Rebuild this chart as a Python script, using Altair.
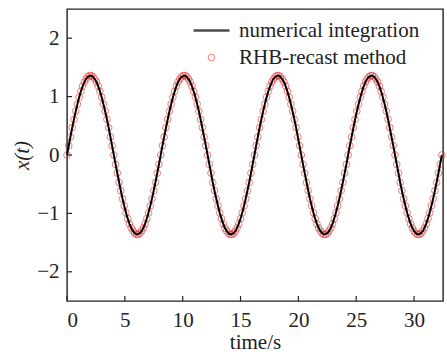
import altair as alt
import pandas as pd

# ---- numerical integration (black line) ----
time_s = [
    0.0, 0.2, 0.4, 0.6, 0.8, 1.0, 1.2, 1.4, 1.6, 1.8,
    2.0, 2.2, 2.4, 2.6, 2.8, 3.0, 3.2, 3.4, 3.6, 3.8,
    4.0, 4.2, 4.4, 4.6, 4.8, 5.0, 5.2, 5.4, 5.6, 5.8,
    6.0, 6.2, 6.4, 6.6, 6.8, 7.0, 7.2, 7.4, 7.6, 7.8,
    8.0, 8.2, 8.4, 8.6, 8.8, 9.0, 9.2, 9.4, 9.6, 9.8,
    10.0, 10.2, 10.4, 10.6, 10.8, 11.0, 11.2, 11.4, 11.6, 11.8,
    12.0, 12.2, 12.4, 12.6, 12.8, 13.0, 13.2, 13.4, 13.6, 13.8,
    14.0, 14.2, 14.4, 14.6, 14.8, 15.0, 15.2, 15.4, 15.6, 15.8,
    16.0, 16.2, 16.4, 16.6, 16.8, 17.0, 17.2, 17.4, 17.6, 17.8,
    18.0, 18.2, 18.4, 18.6, 18.8, 19.0, 19.2, 19.4, 19.6, 19.8,
    20.0, 20.2, 20.4, 20.6, 20.8, 21.0, 21.2, 21.4, 21.6, 21.8,
    22.0, 22.2, 22.4, 22.6, 22.8, 23.0, 23.2, 23.4, 23.6, 23.8,
    24.0, 24.2, 24.4, 24.6, 24.8, 25.0, 25.2, 25.4, 25.6, 25.8,
    26.0, 26.2, 26.4, 26.6, 26.8, 27.0, 27.2, 27.4, 27.6, 27.8,
    28.0, 28.2, 28.4, 28.6, 28.8, 29.0, 29.2, 29.4, 29.6, 29.8,
    30.0, 30.2, 30.4, 30.6, 30.8, 31.0, 31.2, 31.4, 31.6, 31.8,
    32.0, 32.2, 32.4,
]
x_t = [
    0.00, 0.21, 0.42, 0.61, 0.79, 0.95, 1.09, 1.20, 1.29, 1.34,
    1.36, 1.35, 1.30, 1.23, 1.12, 0.99, 0.83, 0.66, 0.47, 0.26,
    0.05, -0.16, -0.36, -0.56, -0.75, -0.91, -1.06, -1.18, -1.27, -1.33,
    -1.36, -1.35, -1.32, -1.25, -1.15, -1.02, -0.87, -0.70, -0.51, -0.31,
    -0.11, 0.11, 0.31, 0.51, 0.70, 0.87, 1.02, 1.15, 1.25, 1.32,
    1.35, 1.36, 1.33, 1.27, 1.18, 1.06, 0.91, 0.75, 0.56, 0.36,
    0.16, -0.05, -0.26, -0.47, -0.66, -0.83, -0.99, -1.12, -1.23, -1.30,
    -1.35, -1.36, -1.34, -1.29, -1.20, -1.09, -0.95, -0.79, -0.61, -0.42,
    -0.21, 0.00, 0.21, 0.42, 0.61, 0.79, 0.95, 1.09, 1.20, 1.29,
    1.34, 1.36, 1.35, 1.30, 1.23, 1.12, 0.99, 0.83, 0.66, 0.47,
    0.26, 0.05, -0.16, -0.36, -0.56, -0.75, -0.91, -1.06, -1.18, -1.27,
    -1.33, -1.36, -1.35, -1.32, -1.25, -1.15, -1.02, -0.87, -0.70, -0.51,
    -0.31, -0.11, 0.11, 0.31, 0.51, 0.70, 0.87, 1.02, 1.15, 1.25,
    1.32, 1.35, 1.36, 1.33, 1.27, 1.18, 1.06, 0.91, 0.75, 0.56,
    0.36, 0.16, -0.05, -0.26, -0.47, -0.66, -0.83, -0.99, -1.12, -1.23,
    -1.30, -1.35, -1.36, -1.34, -1.29, -1.20, -1.09, -0.95, -0.79, -0.61,
    -0.42, -0.21, 0.00,
]

# ---- RHB-recast method (red open circles) ----
rhb_time_s = [
    0.00, 0.15, 0.30, 0.45, 0.60, 0.75, 0.90, 1.05, 1.20, 1.35,
    1.50, 1.65, 1.80, 1.95, 2.10, 2.25, 2.40, 2.55, 2.70, 2.85,
    3.00, 3.15, 3.30, 3.45, 3.60, 3.75, 3.90, 4.05, 4.20, 4.35,
    4.50, 4.65, 4.80, 4.95, 5.10, 5.25, 5.40, 5.55, 5.70, 5.85,
    6.00, 6.15, 6.30, 6.45, 6.60, 6.75, 6.90, 7.05, 7.20, 7.35,
    7.50, 7.65, 7.80, 7.95, 8.10, 8.25, 8.40, 8.55, 8.70, 8.85,
    9.00, 9.15, 9.30, 9.45, 9.60, 9.75, 9.90, 10.05, 10.20, 10.35,
    10.50, 10.65, 10.80, 10.95, 11.10, 11.25, 11.40, 11.55, 11.70, 11.85,
    12.00, 12.15, 12.30, 12.45, 12.60, 12.75, 12.90, 13.05, 13.20, 13.35,
    13.50, 13.65, 13.80, 13.95, 14.10, 14.25, 14.40, 14.55, 14.70, 14.85,
    15.00, 15.15, 15.30, 15.45, 15.60, 15.75, 15.90, 16.05, 16.20, 16.35,
    16.50, 16.65, 16.80, 16.95, 17.10, 17.25, 17.40, 17.55, 17.70, 17.85,
    18.00, 18.15, 18.30, 18.45, 18.60, 18.75, 18.90, 19.05, 19.20, 19.35,
    19.50, 19.65, 19.80, 19.95, 20.10, 20.25, 20.40, 20.55, 20.70, 20.85,
    21.00, 21.15, 21.30, 21.45, 21.60, 21.75, 21.90, 22.05, 22.20, 22.35,
    22.50, 22.65, 22.80, 22.95, 23.10, 23.25, 23.40, 23.55, 23.70, 23.85,
    24.00, 24.15, 24.30, 24.45, 24.60, 24.75, 24.90, 25.05, 25.20, 25.35,
    25.50, 25.65, 25.80, 25.95, 26.10, 26.25, 26.40, 26.55, 26.70, 26.85,
    27.00, 27.15, 27.30, 27.45, 27.60, 27.75, 27.90, 28.05, 28.20, 28.35,
    28.50, 28.65, 28.80, 28.95, 29.10, 29.25, 29.40, 29.55, 29.70, 29.85,
    30.00, 30.15, 30.30, 30.45, 30.60, 30.75, 30.90, 31.05, 31.20, 31.35,
    31.50, 31.65, 31.80, 31.95, 32.10, 32.25, 32.40,
]
rhb_x_t = [
    0.00, 0.16, 0.31, 0.47, 0.61, 0.75, 0.87, 0.99, 1.09, 1.18, 1.25, 1.30, 1.34, 1.36,
    1.36, 1.34, 1.30, 1.25, 1.18, 1.09, 0.99, 0.87, 0.75, 0.61, 0.47, 0.31, 0.16,
    0.00, -0.16, -0.31, -0.47, -0.61, -0.75, -0.87, -0.99, -1.09, -1.18, -1.25, -1.30, -1.34, -1.36,
    -1.36, -1.34, -1.30, -1.25, -1.18, -1.09, -0.99, -0.87, -0.75, -0.61, -0.47, -0.31, -0.16,
    0.00, 0.16, 0.31, 0.47, 0.61, 0.75, 0.87, 0.99, 1.09, 1.18, 1.25, 1.30, 1.34, 1.36,
    1.36, 1.34, 1.30, 1.25, 1.18, 1.09, 0.99, 0.87, 0.75, 0.61, 0.47, 0.31, 0.16,
    0.00, -0.16, -0.31, -0.47, -0.61, -0.75, -0.87, -0.99, -1.09, -1.18, -1.25, -1.30, -1.34, -1.36,
    -1.36, -1.34, -1.30, -1.25, -1.18, -1.09, -0.99, -0.87, -0.75, -0.61, -0.47, -0.31, -0.16,
    0.00, 0.16, 0.31, 0.47, 0.61, 0.75, 0.87, 0.99, 1.09, 1.18, 1.25, 1.30, 1.34, 1.36,
    1.36, 1.34, 1.30, 1.25, 1.18, 1.09, 0.99, 0.87, 0.75, 0.61, 0.47, 0.31, 0.16,
    0.00, -0.16, -0.31, -0.47, -0.61, -0.75, -0.87, -0.99, -1.09, -1.18, -1.25, -1.30, -1.34, -1.36,
    -1.36, -1.34, -1.30, -1.25, -1.18, -1.09, -0.99, -0.87, -0.75, -0.61, -0.47, -0.31, -0.16,
    0.00, 0.16, 0.31, 0.47, 0.61, 0.75, 0.87, 0.99, 1.09, 1.18, 1.25, 1.30, 1.34, 1.36,
    1.36, 1.34, 1.30, 1.25, 1.18, 1.09, 0.99, 0.87, 0.75, 0.61, 0.47, 0.31, 0.16,
    0.00, -0.16, -0.31, -0.47, -0.61, -0.75, -0.87, -0.99, -1.09, -1.18, -1.25, -1.30, -1.34, -1.36,
    -1.36, -1.34, -1.30, -1.25, -1.18, -1.09, -0.99, -0.87, -0.75, -0.61, -0.47, -0.31, -0.16,
    0.00,
]

series_names = ["numerical integration", "RHB-recast method"]
series_colors = ["#000000", "#e8302e"]
x_ticks = [0, 5, 10, 15, 20, 25, 30]
y_ticks = [-2, -1, 0, 1, 2]

FONT = "Liberation Serif"
FS = 21
INK = "#222222"
W, H = 376, 292

df_line = pd.DataFrame({"t": time_s, "x": x_t, "series": series_names[0]})
df_pts = pd.DataFrame({"t": rhb_time_s, "x": rhb_x_t, "series": series_names[1]})
df_xt = pd.DataFrame({"t": x_ticks})
df_yt = pd.DataFrame({"x": y_ticks})

x_scale = alt.Scale(domain=[0, 32.5], nice=False, zero=False)
y_scale = alt.Scale(domain=[-2.5, 2.5], nice=False)

x_axis = alt.Axis(
    values=x_ticks, title="time/s", domain=False, grid=False,
    ticks=False, tickSize=0,
    labelPadding=8, labelFont=FONT, labelFontSize=FS, labelColor=INK,
    titleFont=FONT, titleFontSize=FS, titleFontWeight="normal",
    titleColor=INK, titlePadding=1,
)
y_axis = alt.Axis(
    values=y_ticks, title="x(t)", domain=False, grid=False,
    ticks=False, tickSize=0,
    labelPadding=8, labelFont=FONT, labelFontSize=FS, labelColor=INK,
    titleFont=FONT, titleFontSize=FS, titleFontWeight="normal",
    titleFontStyle="italic", titleColor=INK, titlePadding=4,
)

x_enc = alt.X("t:Q", scale=x_scale, axis=x_axis)
y_enc = alt.Y("x:Q", scale=y_scale, axis=y_axis)

legend = alt.Legend(
    title=None, orient="none", legendX=125, legendY=2, padding=0,
    labelFont=FONT, labelFontSize=FS, labelColor=INK, labelOffset=8,
    labelLimit=0, rowPadding=5,
)

color_enc = alt.Color(
    "series:N",
    scale=alt.Scale(domain=series_names, range=series_colors),
    legend=legend,
)
shape_enc = alt.Shape(
    "series:N",
    scale=alt.Scale(domain=series_names, range=["stroke", "circle"]),
    legend=legend,
)
size_enc = alt.Size(
    "series:N",
    scale=alt.Scale(domain=series_names, range=[1296, 45]),
    legend=legend,
)
sw_enc = alt.StrokeWidth(
    "series:N",
    scale=alt.Scale(domain=series_names, range=[2.6, 0.9]),
    legend=legend,
)

points = alt.Chart(df_pts).mark_point(filled=False, opacity=0.7).encode(
    x=x_enc, y=y_enc, color=color_enc, shape=shape_enc, size=size_enc,
    strokeWidth=sw_enc,
)
line = alt.Chart(df_line).mark_line(strokeWidth=2.0).encode(
    x=x_enc, y=y_enc, color=color_enc,
)

# inward-pointing tick marks
x_tick_marks = alt.Chart(df_xt).mark_rule(color=INK, strokeWidth=1.2).encode(
    x=alt.X("t:Q", scale=x_scale, axis=x_axis),
    y=alt.value(H), y2=alt.value(H - 5),
)
y_tick_marks = alt.Chart(df_yt).mark_rule(color=INK, strokeWidth=1.2).encode(
    y=alt.Y("x:Q", scale=y_scale, axis=y_axis),
    x=alt.value(0), x2=alt.value(5),
)

chart = (
    alt.layer(points, line, x_tick_marks, y_tick_marks)
    .properties(
        width=W, height=H,
        background="white",
        autosize=alt.AutoSizeParams(type="none"),
        padding={"left": 67, "top": 9, "right": 4, "bottom": 53},
    )
    .configure_view(stroke=INK, strokeWidth=1.4)
)

chart.save("out.html", embed_options={"renderer": "svg", "actions": False})
